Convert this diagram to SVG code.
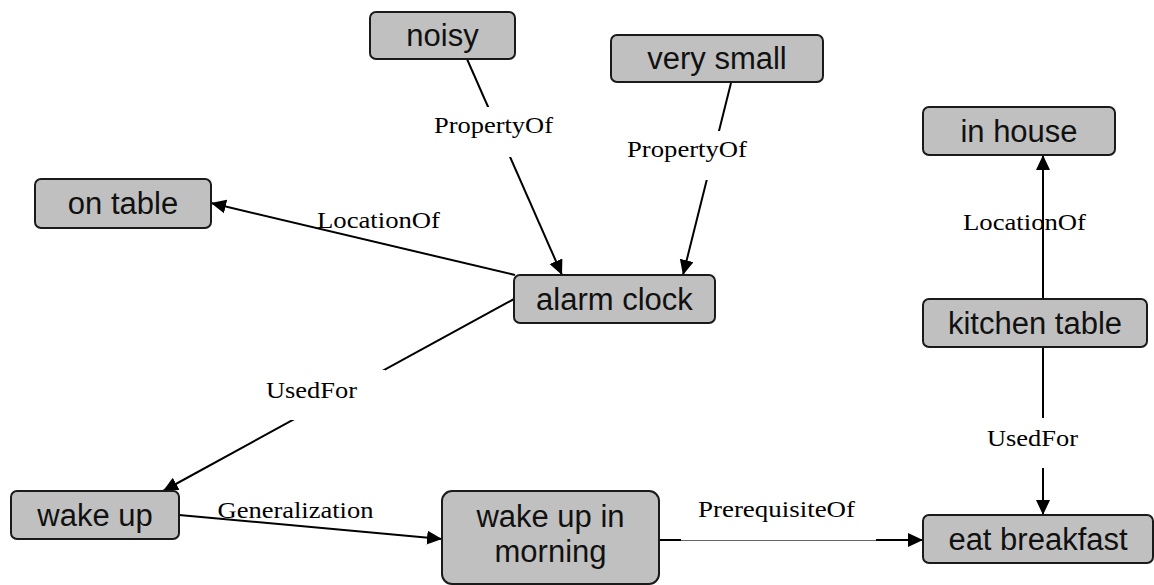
<svg xmlns="http://www.w3.org/2000/svg" width="1154" height="585" viewBox="0 0 1154 585">
  <style>
    .node rect { fill: #c0c0c0; stroke: #1a1a1a; stroke-width: 2; }
    .node text { font-family: "Liberation Sans", Arial, sans-serif; font-size: 31px; fill: #111; text-anchor: middle; }
    .edge { stroke: #000; stroke-width: 2; fill: none; }
    .lbl { font-family: "Liberation Serif", "Times New Roman", serif; font-size: 24px; fill: #000; text-anchor: middle; }
    .gap { fill: #fff; stroke: none; }
  </style>
  <defs>
    <marker id="arrow" markerUnits="userSpaceOnUse" markerWidth="16" markerHeight="15" refX="15" refY="7" orient="auto">
      <path d="M0,0 L15,7 L0,14 Z" fill="#000"/>
    </marker>
  </defs>
  <rect width="1154" height="585" fill="#fff"/>

  <!-- relations -->
  <g id="connectors">
    <line class="edge" x1="515" y1="275" x2="211" y2="203" marker-end="url(#arrow)"/>
    <line class="edge" x1="467" y1="59" x2="562" y2="275" marker-end="url(#arrow)"/>
    <line class="edge" x1="731" y1="83" x2="683" y2="275" marker-end="url(#arrow)"/>
    <line class="edge" x1="514" y1="299" x2="163" y2="491" marker-end="url(#arrow)"/>
    <line class="edge" x1="179" y1="515" x2="442" y2="539" marker-end="url(#arrow)"/>
    <line class="edge" x1="659" y1="540" x2="923" y2="540" marker-end="url(#arrow)"/>
    <line class="edge" x1="1043" y1="299" x2="1043" y2="155" marker-end="url(#arrow)"/>
    <line class="edge" x1="1043" y1="347" x2="1043" y2="515" marker-end="url(#arrow)"/>

    <!-- label backgrounds that break the lines -->
    <rect class="gap" x="432" y="107" width="123" height="50"/>
    <rect class="gap" x="625" y="131" width="124" height="49"/>
    <rect class="gap" x="250" y="370" width="135" height="50"/>
    <rect class="gap" x="985" y="418" width="95" height="50"/>
    <rect class="gap" x="681" y="492" width="195" height="48.4"/>

    <text class="lbl" x="493.5" y="133" textLength="119" lengthAdjust="spacingAndGlyphs">PropertyOf</text>
    <text class="lbl" x="687" y="157" textLength="120" lengthAdjust="spacingAndGlyphs">PropertyOf</text>
    <text class="lbl" x="378.5" y="228" textLength="123" lengthAdjust="spacingAndGlyphs">LocationOf</text>
    <text class="lbl" x="1024.5" y="230" textLength="123" lengthAdjust="spacingAndGlyphs">LocationOf</text>
    <text class="lbl" x="311.5" y="398" textLength="91" lengthAdjust="spacingAndGlyphs">UsedFor</text>
    <text class="lbl" x="1032.5" y="446" textLength="91" lengthAdjust="spacingAndGlyphs">UsedFor</text>
    <text class="lbl" x="295.5" y="518" textLength="156" lengthAdjust="spacingAndGlyphs">Generalization</text>
    <text class="lbl" x="776.5" y="517" textLength="157" lengthAdjust="spacingAndGlyphs">PrerequisiteOf</text>
  </g>

  <!-- concepts -->
  <g id="noisy" class="node">
    <rect x="370" y="12" width="145" height="47" rx="6"/>
    <text x="442.5" y="46">noisy</text>
  </g>
  <g id="very-small" class="node">
    <rect x="611" y="35" width="212" height="47" rx="6"/>
    <text x="717" y="69">very small</text>
  </g>
  <g id="on-table" class="node">
    <rect x="35" y="179" width="176" height="49" rx="6"/>
    <text x="123" y="214">on table</text>
  </g>
  <g id="alarm-clock" class="node">
    <rect x="514" y="275" width="201" height="48" rx="6"/>
    <text x="614.5" y="309.5">alarm clock</text>
  </g>
  <g id="in-house" class="node">
    <rect x="923" y="107" width="192" height="48" rx="6"/>
    <text x="1019" y="141.5">in house</text>
  </g>
  <g id="kitchen-table" class="node">
    <rect x="923" y="299" width="224" height="48" rx="6"/>
    <text x="1035" y="333.5">kitchen table</text>
  </g>
  <g id="wake-up" class="node">
    <rect x="11" y="491" width="168" height="48" rx="6"/>
    <text x="95" y="525.5">wake up</text>
  </g>
  <g id="wake-up-in-morning" class="node">
    <rect x="442" y="491" width="217" height="93" rx="10"/>
    <text x="550.5" y="527">wake up in</text>
    <text x="550.5" y="562">morning</text>
  </g>
  <g id="eat-breakfast" class="node">
    <rect x="923" y="515" width="230" height="48" rx="6"/>
    <text x="1038" y="549.5">eat breakfast</text>
  </g>
</svg>
